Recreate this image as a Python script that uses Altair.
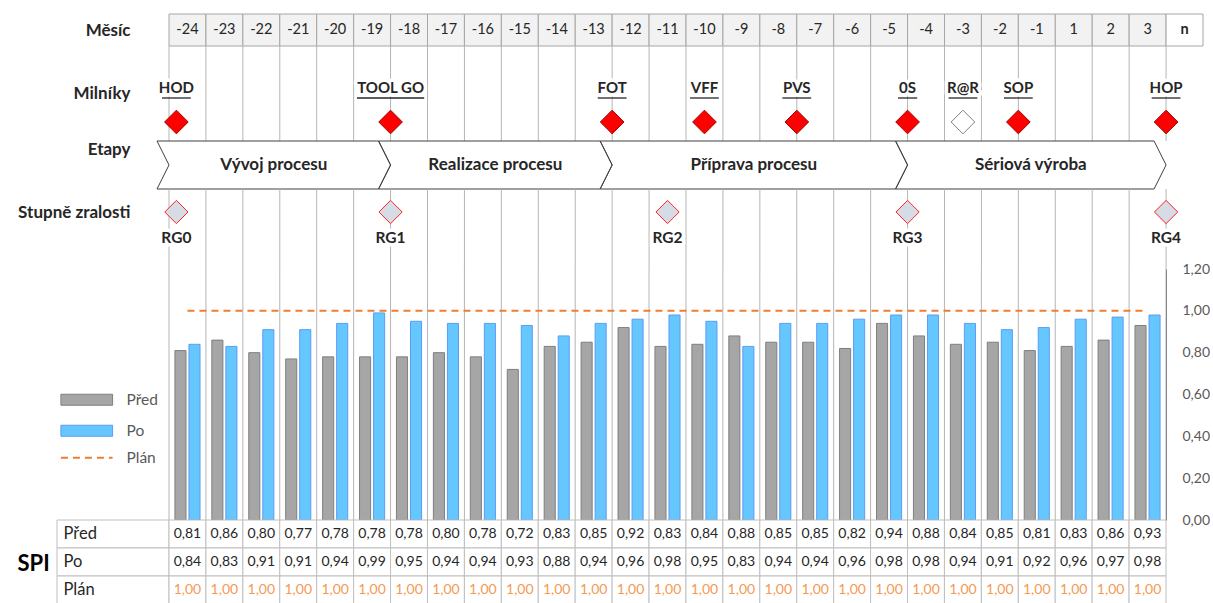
import altair as alt
import pandas as pd

# ---------------- data ----------------
MONTHS = ["-24", "-23", "-22", "-21", "-20", "-19", "-18", "-17", "-16", "-15", "-14", "-13",
          "-12", "-11", "-10", "-9", "-8", "-7", "-6", "-5", "-4", "-3", "-2", "-1",
          "1", "2", "3", "n"]
PRED = [0.81, 0.86, 0.80, 0.77, 0.78, 0.78, 0.78, 0.80, 0.78, 0.72, 0.83, 0.85, 0.92, 0.83,
        0.84, 0.88, 0.85, 0.85, 0.82, 0.94, 0.88, 0.84, 0.85, 0.81, 0.83, 0.86, 0.93]
PO = [0.84, 0.83, 0.91, 0.91, 0.94, 0.99, 0.95, 0.94, 0.94, 0.93, 0.88, 0.94, 0.96, 0.98,
      0.95, 0.83, 0.94, 0.94, 0.96, 0.98, 0.98, 0.94, 0.91, 0.92, 0.96, 0.97, 0.98]
PLAN = [1.00, 1.00, 1.00, 1.00, 1.00, 1.00, 1.00, 1.00, 1.00, 1.00, 1.00, 1.00, 1.00, 1.00,
        1.00, 1.00, 1.00, 1.00, 1.00, 1.00, 1.00, 1.00, 1.00, 1.00, 1.00, 1.00, 1.00]
ROWS = ["Před", "Po", "Plán"]

MILESTONES = ["HOD", "TOOL GO", "FOT", "VFF", "PVS", "0S", "R@R", "SOP", "HOP"]
MILESTONE_POS = [0.2, 6, 12, 14.5, 17, 20, 21.5, 23, 27]
MILESTONE_DONE = [True, True, True, True, True, True, False, True, True]

STAGES = ["Vývoj procesu", "Realizace procesu", "Příprava procesu", "Sériová výroba"]
STAGE_START = [0, 6, 12, 20]
STAGE_END = [6, 12, 20, 27]

GATES = ["RG0", "RG1", "RG2", "RG3", "RG4"]
GATE_POS = [0.2, 6, 13.5, 20, 27]

# ---------------- style / layout ----------------
FONT = "Lato"
TXT = "#262626"
GRID = "#b5b5b5"
ORANGE = "#ed7d31"
COLW = 36.93
N_ALL = len(MONTHS)
N_VAL = len(PRED)
W_ALL = round(COLW * N_ALL)
W_VAL = round(COLW * N_VAL)
H_HEAD, H_MS, H_ST, H_RG, H_PLOT, H_ROW = 32, 95, 48, 80, 251, 28
CHEV = 12 / COLW          # chevron depth in month units
LABEL_COL = -112 / COLW   # left edge of the table label column

x_all = alt.Scale(domain=[0, N_ALL], nice=False, zero=False)
x_val = alt.Scale(domain=[0, N_VAL], nice=False, zero=False)


def lane_axis(offset=0):
    return alt.Axis(title=None, domain=False, ticks=False, tickSize=0, grid=False,
                    labelPadding=39, labelFont=FONT, labelFontSize=17, labelFontWeight="bold",
                    labelColor=TXT, labelOffset=offset, labelAlign="right",
                    labelBaseline="middle")


def grid_rules(scale, count):
    df = pd.DataFrame({"b": list(range(count + 1))})
    return alt.Chart(df).mark_rule(color=GRID, strokeWidth=1).encode(
        x=alt.X("b:Q", scale=scale, axis=None))


# ---------------- header (months) ----------------
head_df = pd.DataFrame({"month": MONTHS, "idx": list(range(N_ALL)), "lane": "Měsíc"})
head_base = alt.Chart(head_df).transform_calculate(x1="datum.idx + 1", xm="datum.idx + 0.5")
head_y = alt.Y("lane:N", scale=alt.Scale(range=[0, H_HEAD]), axis=lane_axis())
head_cells = head_base.mark_rect(stroke="#a6a6a6", strokeWidth=1).encode(
    x=alt.X("idx:Q", scale=x_all, axis=None), x2="x1:Q",
    fill=alt.condition(alt.datum.month == "n", alt.value("#ffffff"), alt.value("#f2f2f2")))
head_text = head_base.transform_filter(alt.datum.month != "n").mark_text(
    font=FONT, fontSize=14.5, color=TXT).encode(
    x=alt.X("xm:Q", scale=x_all, axis=None), y=head_y, text="month:N")
head_n = head_base.transform_filter(alt.datum.month == "n").mark_text(
    font=FONT, fontSize=14.5, color=TXT, fontWeight="bold").encode(
    x=alt.X("xm:Q", scale=x_all, axis=None), y=head_y, text="month:N")
header = alt.layer(head_cells, head_text, head_n).properties(width=W_ALL, height=H_HEAD)

# ---------------- milestones ----------------
ms_df = pd.DataFrame({"name": MILESTONES, "pos": MILESTONE_POS,
                      "state": ["hotovo" if d else "plán" for d in MILESTONE_DONE],
                      "lane": "Milníky"})
ms_df["half"] = ms_df["name"].str.len() * 9.6 / 2 / COLW
ms_base = alt.Chart(ms_df)
ms_y = alt.Y("lane:N", scale=alt.Scale(range=[0, 152]), axis=lane_axis(-29))
ms_halo = ms_base.mark_text(font=FONT, fontSize=15, fontWeight="bold", dy=-34,
                            stroke="white", strokeWidth=7, strokeJoin="round").encode(
    x=alt.X("pos:Q", scale=x_all, axis=None), y=ms_y, text="name:N")
ms_text = ms_base.mark_text(font=FONT, fontSize=15, fontWeight="bold", dy=-34, color=TXT).encode(
    x=alt.X("pos:Q", scale=x_all, axis=None), y=ms_y, text="name:N")
ms_line = ms_base.transform_calculate(u0="datum.pos - datum.half", u1="datum.pos + datum.half").mark_rule(
    color=TXT, strokeWidth=1.3).encode(
    x=alt.X("u0:Q", scale=x_all, axis=None), x2="u1:Q", y=alt.value(52))
ms_pts = ms_base.mark_point(shape="diamond", filled=True, size=560, strokeWidth=1, opacity=1).encode(
    x=alt.X("pos:Q", scale=x_all, axis=None), y=ms_y,
    fill=alt.Fill("state:N", scale=alt.Scale(domain=["hotovo", "plán"], range=["#ff0000", "#ffffff"]),
                  legend=None),
    stroke=alt.Stroke("state:N", scale=alt.Scale(domain=["hotovo", "plán"], range=["#a00000", "#808080"]),
                      legend=None))
milestones = alt.layer(grid_rules(x_all, N_VAL), ms_halo, ms_text, ms_line, ms_pts).properties(
    width=W_ALL, height=H_MS)

# ---------------- stages (chevrons) ----------------
pts = []
for name, a, b in zip(STAGES, STAGE_START, STAGE_END):
    outline = [(a - CHEV, 0), (b - CHEV, 0), (b, 1), (b - CHEV, 2), (a - CHEV, 2), (a, 1), (a - CHEV, 0)]
    for k, (px, v) in enumerate(outline):
        pts.append({"stage": name, "k": k, "px": px, "v": v})
st_pts = pd.DataFrame(pts)
st_df = pd.DataFrame({"stage": STAGES, "a": STAGE_START, "b": STAGE_END, "lane": "Etapy"})
chev = alt.Chart(st_pts).mark_line(color="#404040", strokeWidth=1, strokeJoin="miter").encode(
    y=alt.Y("v:Q", scale=alt.Scale(domain=[0, 2], nice=False, reverse=True), axis=None),
    x=alt.X("px:Q", scale=x_all, axis=None),
    detail="stage:N", order="k:Q")
st_text = alt.Chart(st_df).transform_calculate(
    xm="(datum.a + datum.b) / 2 - %f" % (CHEV / 2)).mark_text(
    font=FONT, fontSize=17, fontWeight="bold", color=TXT).encode(
    x=alt.X("xm:Q", scale=x_all, axis=None),
    y=alt.Y("lane:N", scale=alt.Scale(range=[0, H_ST]), axis=lane_axis(-16)),
    text="stage:N")
stages = alt.layer(chev, st_text).resolve_scale(y="independent").properties(width=W_ALL, height=H_ST)

# ---------------- readiness gates ----------------
rg_df = pd.DataFrame({"name": GATES, "pos": GATE_POS, "lane": "Stupně zralosti"})
rg_base = alt.Chart(rg_df)
rg_y = alt.Y("lane:N", scale=alt.Scale(range=[0, 46]), axis=lane_axis(0))
rg_pts = rg_base.mark_point(shape="diamond", filled=True, size=540, fill="#d6dce5",
                            stroke="#ff2020", strokeWidth=1, opacity=1).encode(
    x=alt.X("pos:Q", scale=x_all, axis=None), y=rg_y)
rg_halo = rg_base.mark_text(font=FONT, fontSize=15.5, fontWeight="bold", dy=26,
                            stroke="white", strokeWidth=7, strokeJoin="round").encode(
    x=alt.X("pos:Q", scale=x_all, axis=None), y=rg_y, text="name:N")
rg_text = rg_base.mark_text(font=FONT, fontSize=15.5, fontWeight="bold", dy=26, color=TXT).encode(
    x=alt.X("pos:Q", scale=x_all, axis=None), y=rg_y, text="name:N")
gates = alt.layer(grid_rules(x_all, N_VAL), rg_pts, rg_halo, rg_text).properties(width=W_ALL, height=H_RG)

# ---------------- bar chart ----------------
y_val = alt.Scale(domain=[0, 1.2], nice=False, zero=True)
y_axis = alt.Axis(orient="right", values=[0, 0.2, 0.4, 0.6, 0.8, 1.0, 1.2],
                  labelExpr="replace(format(datum.value, '.2f'), '.', ',')",
                  grid=False, ticks=False, tickSize=0, domain=True, domainColor="#595959",
                  domainWidth=1, labelPadding=16, labelFont=FONT, labelFontSize=14,
                  labelColor="#595959", labelOverlap=False, labelFlush=False, title=None)
bar_df = pd.DataFrame({"idx": list(range(N_VAL)) * 2,
                       "series": ["Před"] * N_VAL + ["Po"] * N_VAL,
                       "value": PRED + PO})
leg_common = dict(title=None, orient="none", legendX=-90, padding=0, symbolSize=121,
                  labelOffset=32, rowPadding=14, labelFont=FONT, labelFontSize=15.5,
                  labelColor="#595959", direction="vertical")
leg_bar = alt.Legend(legendY=123, symbolType="M-4.7,-1L4.7,-1L4.7,1L-4.7,1Z",
                     symbolStrokeWidth=1, **leg_common)
leg_line = alt.Legend(legendY=181, symbolType="M-4.7,0L4.7,0", symbolStrokeColor=ORANGE,
                      symbolStrokeWidth=2, symbolDash=[7, 5], **leg_common)
bars = alt.Chart(bar_df).transform_calculate(
    x0="datum.idx + (datum.series === 'Před' ? 0.16 : 0.54)",
    x1="datum.x0 + 0.30").mark_bar(strokeWidth=1).encode(
    x=alt.X("x0:Q", scale=x_val, axis=None), x2="x1:Q",
    y=alt.Y("value:Q", scale=y_val, axis=y_axis, stack=None), y2=alt.datum(0),
    fill=alt.Fill("series:N", scale=alt.Scale(domain=["Před", "Po"], range=["#a6a6a6", "#66c7ff"]),
                  legend=leg_bar),
    stroke=alt.Stroke("series:N", scale=alt.Scale(domain=["Před", "Po"], range=["#7f7f7f", "#5a9cf5"]),
                      legend=leg_bar))
plan_df = pd.DataFrame({"idx": list(range(N_VAL)), "plan": PLAN, "s": "Plán"})
plan_line = alt.Chart(plan_df).transform_calculate(xm="datum.idx + 0.5").mark_line(
    color=ORANGE, strokeWidth=2).encode(
    x=alt.X("xm:Q", scale=x_val, axis=None),
    y=alt.Y("plan:Q", scale=y_val, axis=y_axis),
    strokeDash=alt.StrokeDash("s:N", scale=alt.Scale(domain=["Plán"], range=[[7, 5]]), legend=leg_line))
plot = alt.layer(grid_rules(x_val, N_VAL), bars, plan_line).properties(width=W_VAL, height=H_PLOT)

# ---------------- table ----------------
tab_df = pd.DataFrame({"row": ["Před"] * N_VAL + ["Po"] * N_VAL + ["Plán"] * N_VAL,
                       "idx": list(range(N_VAL)) * 3,
                       "value": PRED + PO + PLAN})
y_tab = alt.Scale(type="band", domain=ROWS, paddingInner=0, paddingOuter=0)
tab_axis = alt.Axis(title="SPI", titleAngle=0, titleAlign="left", titleBaseline="middle",
                    titleX=-152, titleY=43, titleFont=FONT, titleFontSize=22,
                    titleFontWeight="bold", titleColor="#000000",
                    domain=False, ticks=False, tickSize=0, grid=False,
                    labelAlign="left", labelPadding=106, labelFont=FONT, labelFontSize=16.5,
                    labelColor=TXT)
tab_cells = alt.Chart(tab_df).transform_calculate(x1="datum.idx + 1").mark_rect(
    fill="white", stroke="#bfbfbf", strokeWidth=1).encode(
    x=alt.X("idx:Q", scale=x_val, axis=None), x2="x1:Q",
    y=alt.Y("row:N", scale=y_tab, axis=tab_axis))
lab_cells = alt.Chart(pd.DataFrame({"row": ROWS})).transform_calculate(
    x0=str(LABEL_COL), x1="0").mark_rect(fill="white", stroke="#bfbfbf", strokeWidth=1).encode(
    x=alt.X("x0:Q", scale=x_val, axis=None), x2="x1:Q",
    y=alt.Y("row:N", scale=y_tab, axis=tab_axis))
tab_text = alt.Chart(tab_df).transform_calculate(
    xm="datum.idx + 0.5",
    lbl="replace(format(datum.value, '.2f'), '.', ',')").mark_text(font=FONT, fontSize=14).encode(
    x=alt.X("xm:Q", scale=x_val, axis=None),
    y=alt.Y("row:N", scale=y_tab, axis=tab_axis),
    text="lbl:N",
    color=alt.Color("row:N", scale=alt.Scale(domain=ROWS, range=[TXT, TXT, "#f39a55"]), legend=None))
table = alt.layer(lab_cells, tab_cells, tab_text).properties(width=W_VAL, height=H_ROW * 3)

# ---------------- assemble ----------------
chart = alt.vconcat(header, milestones, stages, gates, plot, table, spacing=0, bounds="flush").resolve_scale(
    x="independent", y="independent", fill="independent", stroke="independent",
    color="independent", strokeDash="independent").resolve_legend(
    fill="independent", stroke="independent", color="independent", strokeDash="independent").properties(
    padding={"left": 17, "top": 13, "right": 0, "bottom": 0}).configure(font=FONT).configure_view(stroke=None)

chart.save("out.html", embed_options={"renderer": "svg", "actions": False})
